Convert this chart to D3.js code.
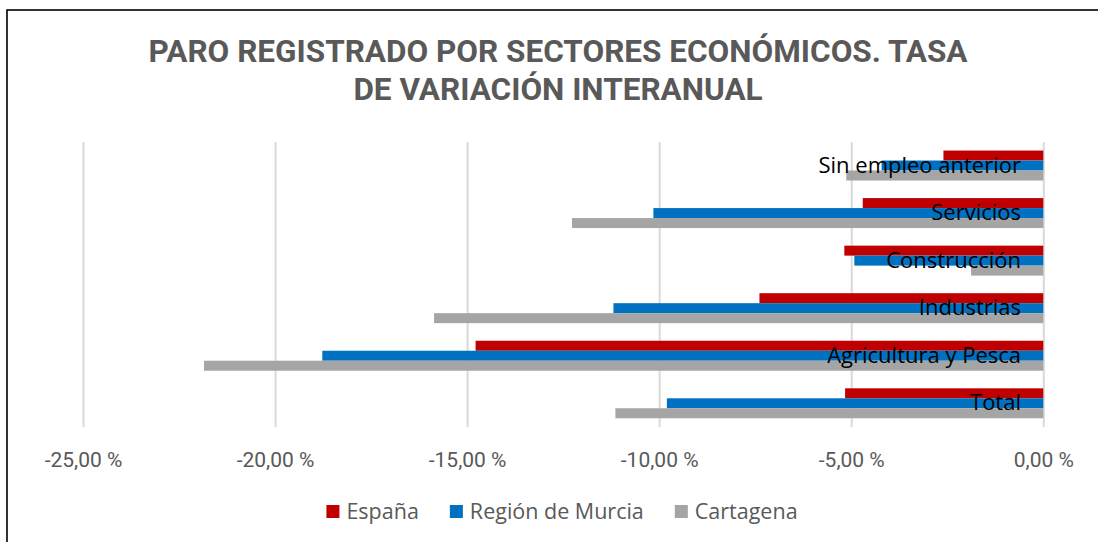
<!DOCTYPE html>
<html><head><meta charset="utf-8">
<script src="https://cdn.jsdelivr.net/npm/d3@7"></script>
<style>
html,body{margin:0;padding:0;background:#fff;}
svg{display:block;}
</style></head>
<body>
<svg id="chart" width="1098" height="542"></svg>
<script>
const categories = ["Sin empleo anterior","Servicios","Construcción","Industrias","Agricultura y Pesca","Total"];
const seriesNames = ["España","Región de Murcia","Cartagena"];
const espana    = [-2.60, -4.70, -5.18, -7.39, -14.78, -5.16];
const murcia    = [-4.21, -10.15, -4.92, -11.19, -18.77, -9.80];
const cartagena = [-5.13, -12.27, -1.88, -15.86, -21.85, -11.14];
const tickValues = [-25, -20, -15, -10, -5, 0];
const titleLines = ["PARO REGISTRADO POR SECTORES ECONÓMICOS. TASA", "DE VARIACIÓN INTERANUAL"];
const colors = ["#C00000", "#0070C0", "#A5A5A5"];

const series = [espana, murcia, cartagena];
const svg = d3.select("#chart");

// border
svg.append("rect").attr("x", 7).attr("y", 10).attr("width", 1200).attr("height", 700)
  .attr("fill", "none").attr("stroke", "#000").attr("stroke-width", 1.6);

// title
svg.append("g").selectAll("text").data(titleLines).join("text")
  .attr("x", 558).attr("y", (d, i) => 62 + i * 38)
  .attr("text-anchor", "middle")
  .attr("font-family", "Roboto, 'Liberation Sans', sans-serif")
  .attr("font-weight", "bold").attr("font-size", 31.5)
  .attr("fill", "#595959").text(d => d);

const x = d3.scaleLinear().domain([-25, 0]).range([83, 1043.3]);
const y = d3.scaleBand().domain(categories).range([141.5, 427.3]).paddingInner(0.37).paddingOuter(0.19);
const y1 = d3.scaleBand().domain(seriesNames).range([0, y.bandwidth()]);

// gridlines
const xAxis = d3.axisBottom(x).tickValues(tickValues).tickSize(-(427 - 142))
  .tickFormat(d => (d < 0 ? "-" : "") + d3.format(".2f")(Math.abs(d)).replace(".", ",") + " %");
const gx = svg.append("g").attr("transform", "translate(0,427)").call(xAxis);
gx.select(".domain").remove();
gx.selectAll(".tick line").attr("stroke", "#D9D9D9").attr("stroke-width", 2);
gx.selectAll(".tick text").attr("fill", "#595959")
  .attr("font-family", "Roboto, 'Liberation Sans', sans-serif")
  .attr("font-size", 21).attr("dy", 0).attr("y", 40);

// bars
const groups = svg.append("g").selectAll("g").data(categories).join("g")
  .attr("transform", c => `translate(0,${y(c)})`);
groups.selectAll("rect").data((c, ci) => seriesNames.map((s, si) => ({s, si, v: series[si][ci]})))
  .join("rect")
  .attr("x", d => x(d.v)).attr("width", d => x(0) - x(d.v))
  .attr("y", d => y1(d.s)).attr("height", y1.bandwidth())
  .attr("fill", d => colors[d.si]);

// category labels
svg.append("g").selectAll("text").data(categories).join("text")
  .attr("x", 1021).attr("y", c => y(c) + y.bandwidth() / 2 + 7)
  .attr("text-anchor", "end")
  .attr("font-family", "'Open Sans', 'Noto Sans', sans-serif")
  .attr("font-size", 22).attr("fill", "#000").text(c => c);

// legend
const leg = svg.append("g");
const items = leg.selectAll("g").data(seriesNames).join("g");
items.append("rect").attr("width", 13).attr("height", 13).attr("y", 505).attr("fill", (d, i) => colors[i]);
items.append("text").attr("x", 20).attr("y", 519)
  .attr("font-family", "'Open Sans', 'Noto Sans', sans-serif").attr("font-size", 21.5)
  .attr("fill", "#595959").text(d => d);
let widths = [];
items.each(function () { widths.push(20 + d3.select(this).select("text").node().getComputedTextLength()); });
const gap = 31;
const total = d3.sum(widths) + gap * (widths.length - 1);
let cx = 562 - total / 2;
items.each(function (d, i) { d3.select(this).attr("transform", `translate(${cx},0)`); cx += widths[i] + gap; });
</script>
</body></html>
